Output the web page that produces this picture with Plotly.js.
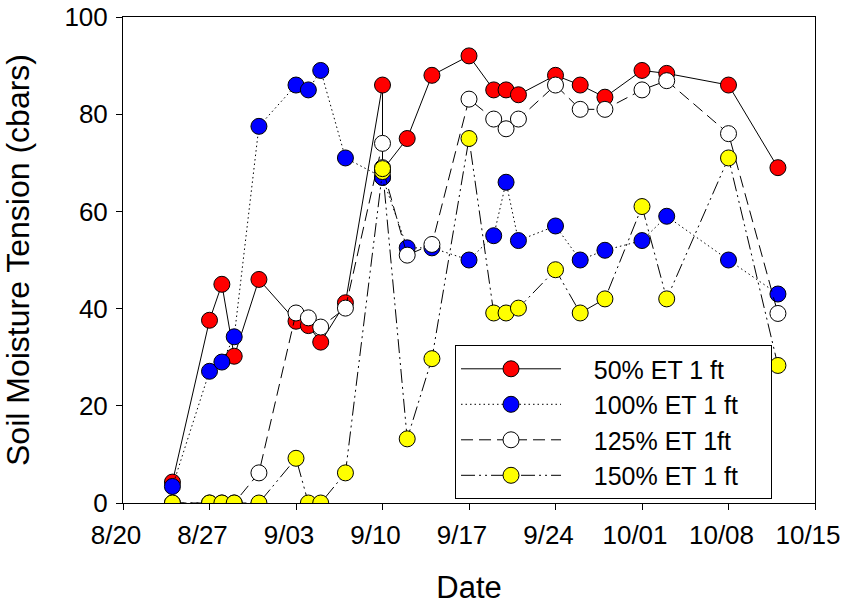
<!DOCTYPE html>
<html>
<head>
<meta charset="utf-8">
<script src="https://cdn.plot.ly/plotly-3.0.1.min.js"></script>
<style>html,body{margin:0;padding:0;background:#fff;}#chart{width:844px;height:605px;}</style>
</head>
<body>
<div id="chart"></div>
<script>
// Measurement dates (two readings on 9/10)
const dates = ['2008-08-24','2008-08-27','2008-08-28','2008-08-29','2008-08-31','2008-09-03','2008-09-04','2008-09-05','2008-09-07','2008-09-10','2008-09-10','2008-09-12','2008-09-14','2008-09-17','2008-09-19','2008-09-20','2008-09-21','2008-09-24','2008-09-26','2008-09-28','2008-10-01','2008-10-03','2008-10-08','2008-10-12'];

const et50  = [4.3, 37.6, 45, 30.2, 46, 37.4, 36.5, 33.1, 41.2, 86, 68.5, 75, 88, 92, 85, 85, 84, 88, 86, 83.5, 89, 88.4, 86, 69];
const et100 = [3.4, 27.1, 29, 34.2, 77.5, 86, 85, 89, 71, 67, 67, 52.5, 52.5, 50, 55, 66, 54, 57, 50, 52, 54, 59, 50, 43];
const et125 = [0, 0, 0, 0, 6.2, 39.1, 38.1, 36.2, 40.1, 74, 69, 51, 53.2, 83.1, 79, 77, 79, 86, 81, 81, 85, 86.9, 76, 39];
const et150 = [0, 0, 0, 0, 0, 9.2, 0, 0, 6.2, 68.2, 68.8, 13.2, 29.7, 75, 39.1, 39.1, 40.1, 48, 39.1, 42, 61, 42, 71, 28.3];

const seriesNames = ['50% ET 1 ft', '100% ET 1 ft', '125% ET 1ft', '150% ET 1 ft'];

const xTickVals = ['2008-08-20','2008-08-27','2008-09-03','2008-09-10','2008-09-17','2008-09-24','2008-10-01','2008-10-08','2008-10-15'];
const xTickText = ['8/20','8/27','9/03','9/10','9/17','9/24','10/01','10/08','10/15'];
const yTickVals = [0, 20, 40, 60, 80, 100];

const FONT = 'Arial, "Liberation Sans", sans-serif';
const PADL = '\u00a0\u00a0\u00a0\u00a0';
const PADR = '\u00a0\u00a0\u00a0\u00a0';

function mk(y, name, color, dash) {
  return {
    x: dates, y: y, name: PADL + name + PADR, type: 'scatter', mode: 'lines+markers',
    line: {color: '#000', width: 1, dash: dash},
    marker: {size: 16, color: color, line: {color: '#000', width: 1}}
  };
}

const data = [
  mk(et50, seriesNames[0], '#ff0000', 'solid'),
  mk(et100, seriesNames[1], '#0000ff', '1.5px,3px'),
  mk(et125, seriesNames[2], '#ffffff', '12px,6px'),
  mk(et150, seriesNames[3], '#ffff00', '14px,4px,2px,4px,2px,4px')
];

const layout = {
  width: 844, height: 605,
  margin: {l: 123, r: 29, t: 17, b: 102},
  paper_bgcolor: '#fff', plot_bgcolor: '#fff',
  font: {family: FONT, color: '#000', size: 26},
  showlegend: true,
  legend: {
    x: 0.4798, y: 0.325, xanchor: 'left', yanchor: 'top',
    bordercolor: '#000', borderwidth: 1, bgcolor: '#fff',
    font: {family: FONT, size: 25, color: '#000'},
    itemwidth: 100, tracegroupgap: 0
  },
  xaxis: {
    type: 'date',
    range: ['2008-08-20', '2008-10-15'],
    tickvals: xTickVals, ticktext: xTickText,
    ticks: 'outside', ticklen: 6, tickwidth: 1, tickcolor: '#000',
    showline: true, linecolor: '#000', linewidth: 1, mirror: true,
    showgrid: false, zeroline: false,
    tickfont: {family: FONT, size: 26},
    ticklabelshift: -7,
    ticklabelstandoff: 3,
    title: {text: 'Date', font: {family: FONT, size: 31}, standoff: 27}
  },
  yaxis: {
    range: [0, 100],
    tickvals: yTickVals,
    ticks: 'outside', ticklen: 6, tickwidth: 1, tickcolor: '#000',
    showline: true, linecolor: '#000', linewidth: 1, mirror: true,
    showgrid: false, zeroline: false,
    tickfont: {family: FONT, size: 26},
    ticklabelstandoff: 3,
    title: {text: 'Soil Moisture Tension (cbars)', font: {family: FONT, size: 32}, standoff: 26}
  }
};

Plotly.newPlot('chart', data, layout, {displayModeBar: false, staticPlot: true});
</script>
</body>
</html>
